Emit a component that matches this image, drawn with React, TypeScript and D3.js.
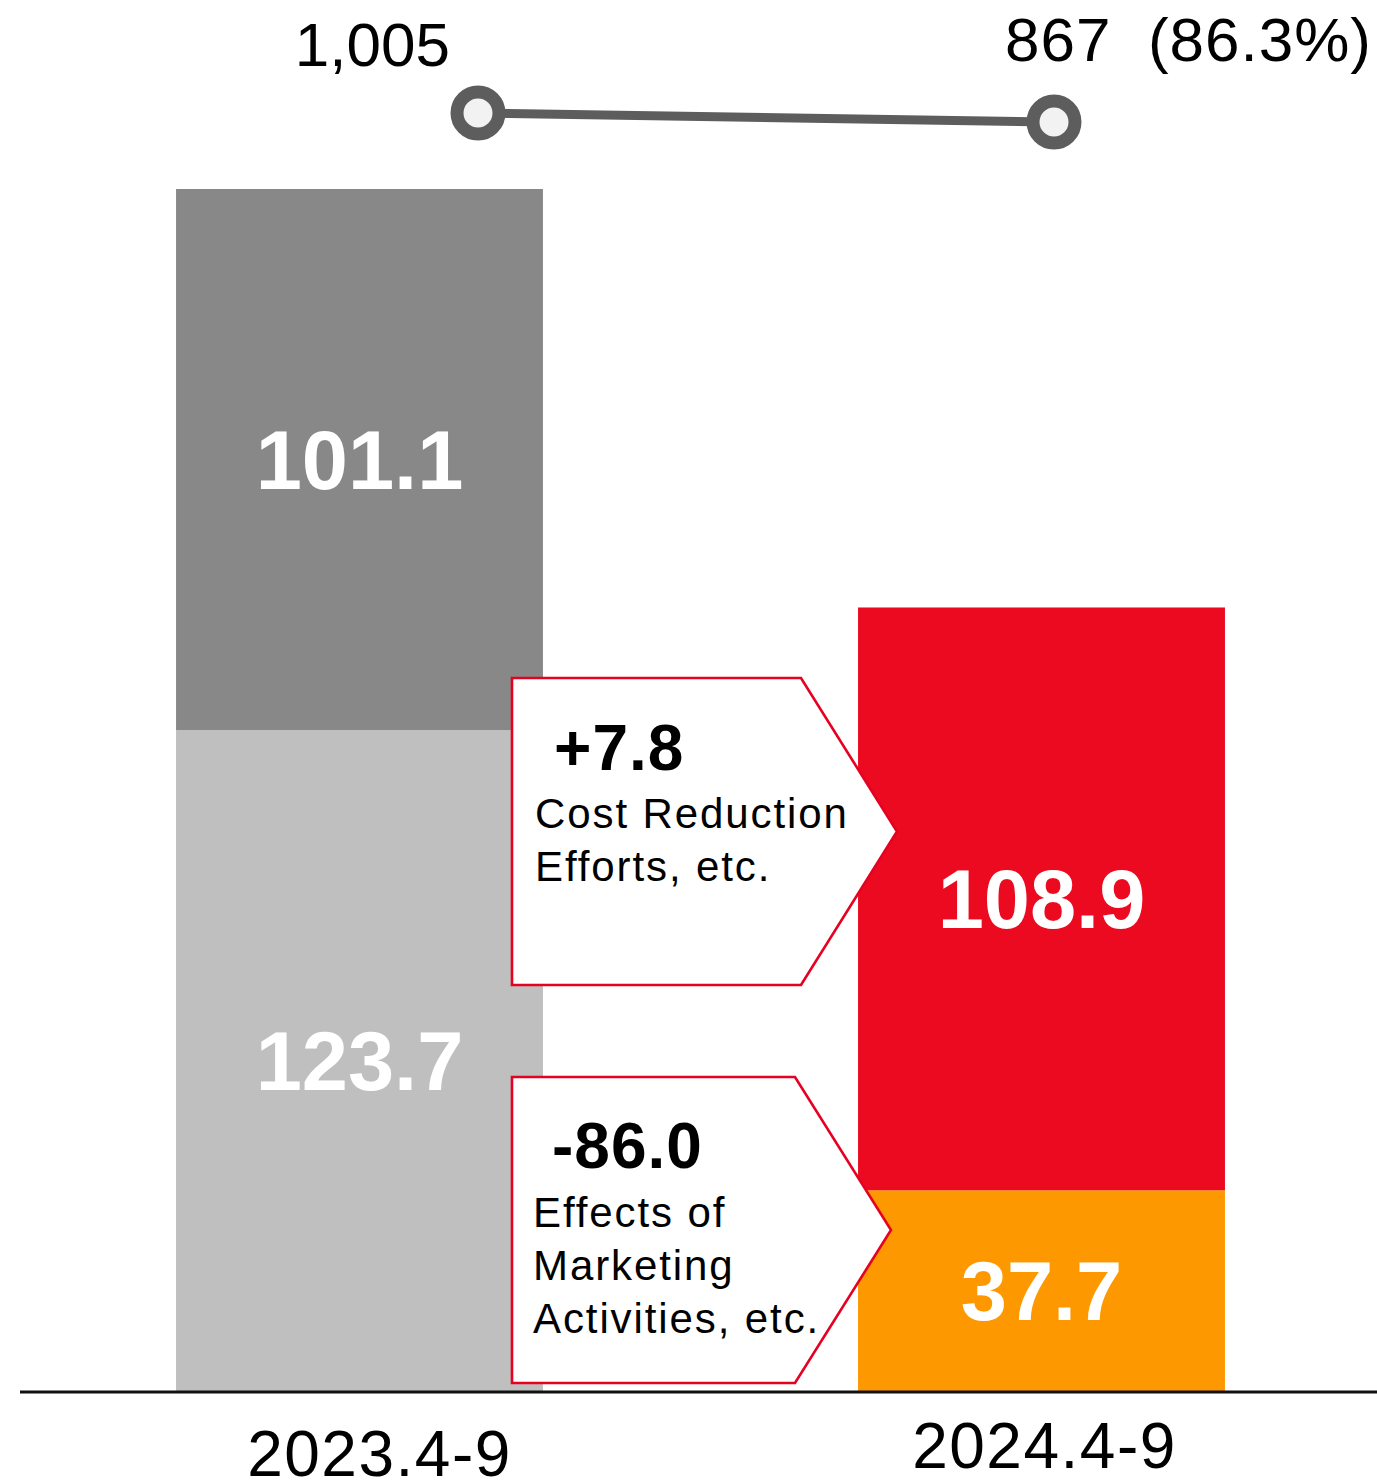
import * as d3 from 'd3'

const CATEGORIES = ['2023.4-9', '2024.4-9']
const BOTTOM_VALUES = [123.7, 37.7]
const TOP_VALUES = [101.1, 108.9]
const LINE_VALUES = [1005, 867]
const LINE_LABELS = ['1,005', '867  (86.3%)']
const CALLOUT_VALUES = ['+7.8', '-86.0']
const CALLOUT_TEXTS = [
  ['Cost Reduction', 'Efforts, etc.'],
  ['Effects of', 'Marketing', 'Activities, etc.'],
]

const W = 1377
const H = 1480
const BASE = 1392
const FONT = '"Liberation Sans", Arial, sans-serif'

const BOTTOM_COLORS = ['#bfbfbf', '#fe9800']
const TOP_COLORS = ['#888888', '#eb0a20']
const RED = '#e60022'
const LINE_COLOR = '#5d5d5d'

// callout boxes: left, top, right of the flat part, tip x, bottom
const CALLOUTS = [
  { x0: 512, y0: 678, x1: 801, tip: 897, y1: 985, tx: 535, vy: 770, ly: 828 },
  { x0: 512, y0: 1077, x1: 795, tip: 891, y1: 1383, tx: 533, vy: 1168, ly: 1227 },
]

export default function App() {
  const x = d3.scaleBand<string>()
    .domain(CATEGORIES)
    .range([20, 1381])
    .paddingInner(0.462)
    .paddingOuter(0.2288)

  const y = d3.scaleLinear()
    .domain([0, d3.max(CATEGORIES, (_, i) => BOTTOM_VALUES[i] + TOP_VALUES[i]) as number])
    .range([BASE, 189])

  const xLine = d3.scalePoint<string>().domain(CATEGORIES).range([478, 1054])
  const yLine = d3.scaleLinear().domain([867, 1005]).range([122, 113])

  const linePath = d3.line<number>()
    .x((_, i) => xLine(CATEGORIES[i]) as number)
    .y((d) => yLine(d))(LINE_VALUES)

  const bw = x.bandwidth()

  return (
    <svg width={W} height={H} style={{ position: 'absolute', left: 0, top: 0, background: '#fff' }}
      fontFamily={FONT}>
      {CATEGORIES.map((c, i) => {
        const bx = x(c) as number
        const b = BOTTOM_VALUES[i]
        const t = TOP_VALUES[i]
        return (
          <g key={c}>
            <rect x={bx} width={bw} y={y(b)} height={y(0) - y(b)} fill={BOTTOM_COLORS[i]} />
            <rect x={bx} width={bw} y={y(b + t)} height={y(b) - y(b + t)} fill={TOP_COLORS[i]} />
            <text x={bx + bw / 2} y={(y(0) + y(b)) / 2 + 29} textAnchor="middle" fill="#fff"
              fontSize={83} fontWeight="bold">{b.toFixed(1)}</text>
            <text x={bx + bw / 2} y={(y(b) + y(b + t)) / 2 + 29} textAnchor="middle" fill="#fff"
              fontSize={83} fontWeight="bold">{t.toFixed(1)}</text>
          </g>
        )
      })}

      {/* callouts */}
      {CALLOUTS.map((c, i) => (
        <g key={i}>
          <path
            d={`M${c.x0},${c.y0}H${c.x1}L${c.tip},${(c.y0 + c.y1) / 2}L${c.x1},${c.y1}H${c.x0}Z`}
            fill="#fff" stroke={RED} strokeWidth={2.6} />
          <text x={c.tx + 19} y={c.vy} fontSize={64} fontWeight="bold" letterSpacing={1} fill="#000">
            {CALLOUT_VALUES[i]}
          </text>
          {CALLOUT_TEXTS[i].map((s, j) => (
            <text key={j} x={c.tx} y={c.ly + j * 53} fontSize={42} letterSpacing={1.9} fill="#000">
              {s}
            </text>
          ))}
        </g>
      ))}

      {/* baseline */}
      <line x1={20} x2={W} y1={BASE} y2={BASE} stroke="#111" strokeWidth={2.8} />

      {/* category labels */}
      <text x={(x(CATEGORIES[0]) as number) + bw / 2 + 20} y={1476} textAnchor="middle"
        fontSize={64} letterSpacing={1.5} fill="#000">{CATEGORIES[0]}</text>
      <text x={(x(CATEGORIES[1]) as number) + bw / 2 + 3} y={1468} textAnchor="middle"
        fontSize={64} letterSpacing={1.5} fill="#000">{CATEGORIES[1]}</text>

      {/* line series */}
      <path d={linePath ?? ''} fill="none" stroke={LINE_COLOR} strokeWidth={9} />
      {LINE_VALUES.map((v, i) => (
        <circle key={i} cx={xLine(CATEGORIES[i])} cy={yLine(v)} r={21}
          fill="#f2f2f2" stroke={LINE_COLOR} strokeWidth={13} />
      ))}
      <text x={(xLine(CATEGORIES[0]) as number) - 28} y={66} textAnchor="end" fontSize={62} fill="#000">
        {LINE_LABELS[0]}
      </text>
      <text x={(xLine(CATEGORIES[1]) as number) - 49} y={61} fontSize={62} letterSpacing={1}
        fill="#000" style={{ whiteSpace: 'pre' }}>
        {LINE_LABELS[1]}
      </text>
    </svg>
  )
}
